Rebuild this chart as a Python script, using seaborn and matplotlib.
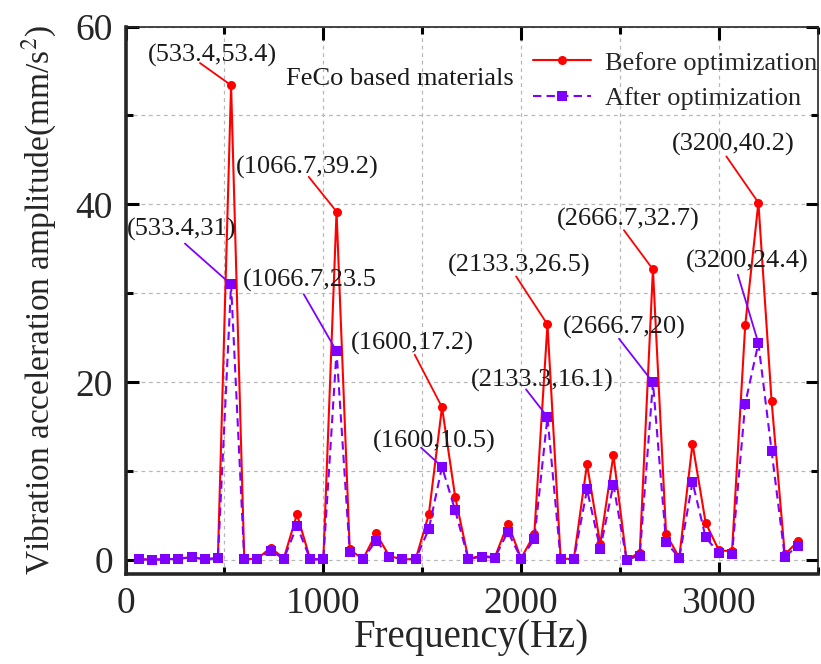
import numpy as np
import pandas as pd
import matplotlib
matplotlib.use("Agg")
import matplotlib.pyplot as plt
import seaborn as sns

# Harmonic orders and frequency resolution (Hz)
step_hz = 3200 / 48
orders = list(range(1, 52))

before_opt = [0.1, 0.05, 0.1, 0.15, 0.35, 0.1, 0.25, 53.4, 0.1, 0.15,
              1.4, 0.2, 5.15, 0.1, 0.1, 39.2, 1.2, 0.1, 3.0, 0.45,
              0.1, 0.1, 5.15, 17.2, 7.1, 0.15, 0.5, 0.3, 4.1, 0.2,
              2.9, 26.5, 0.15, 0.15, 10.8, 1.8, 11.8, 0.05, 0.85, 32.7,
              2.9, 0.3, 13.1, 4.2, 1.1, 1.0, 26.4, 40.2, 17.9, 0.65, 2.1]
after_opt = [0.1, 0.05, 0.1, 0.15, 0.3, 0.1, 0.2, 31.0, 0.1, 0.1,
             1.05, 0.15, 3.85, 0.1, 0.1, 23.5, 0.95, 0.1, 2.2, 0.4,
             0.1, 0.1, 3.5, 10.5, 5.6, 0.1, 0.4, 0.25, 3.2, 0.15,
             2.35, 16.1, 0.1, 0.1, 7.95, 1.25, 8.5, 0.05, 0.5, 20.0,
             2.0, 0.25, 8.8, 2.55, 0.8, 0.65, 17.6, 24.4, 12.3, 0.4, 1.6]

series_names = ["Before optimization", "After optimization"]
series_colors = ["#ff0000", "#8000ff"]

# Peak labels: (series index, harmonic order, label text)
peak_labels = [
    (0, 8, "(533.4,53.4)"), (0, 16, "(1066.7,39.2)"),
    (1, 8, "(533.4,31)"), (1, 16, "(1066.7,23.5"),
    (0, 24, "(1600,17.2)"), (1, 24, "(1600,10.5)"),
    (0, 32, "(2133.3,26.5)"), (1, 32, "(2133.3,16.1)"),
    (0, 40, "(2666.7,32.7)"), (1, 40, "(2666.7,20)"),
    (0, 48, "(3200,40.2)"), (1, 48, "(3200,24.4)"),
]
# Label placement: text centre (x, y) and leader-line start (x, y)
label_layout = [
    (441, 56.8, 376, 55.9), (921, 44.2, 926, 43.1),
    (285, 37.2, 300, 35.6), (930, 31.4, 901, 29.9),
    (1452, 24.4, 1462, 23.1), (1561, 13.4, 1494, 12.65),
    (1988, 33.1, 1975, 31.9), (2107, 20.2, 2025, 19.2),
    (2541, 38.3, 2520, 37.1), (2520, 26.2, 2495, 24.9),
    (3071, 46.7, 3038, 45.4), (3142, 33.6, 3096, 32.1),
]

freq = [k * step_hz for k in orders]
df = pd.DataFrame({
    "Frequency": freq * 2,
    "Amplitude": before_opt + after_opt,
    "Series": [series_names[0]] * len(freq) + [series_names[1]] * len(freq),
})

sns.set_style("ticks")
plt.rcParams["font.family"] = ["Liberation Serif", "DejaVu Serif"]
plt.rcParams["mathtext.fontset"] = "stix"

fig = plt.figure(figsize=(8.21, 6.64), dpi=100)
ax = fig.add_axes([0.153, 0.135, 0.843, 0.825])

sns.lineplot(
    data=df, x="Frequency", y="Amplitude", hue="Series", style="Series",
    hue_order=series_names, style_order=series_names,
    palette=dict(zip(series_names, series_colors)),
    markers={series_names[0]: "o", series_names[1]: "s"},
    dashes={series_names[0]: "", series_names[1]: (4, 2.5)},
    markersize=6.5, markeredgewidth=0, linewidth=1.5, ax=ax,
)

ax.set_xlim(0, 3470)
ax.set_ylim(-1.6, 60)
ax.set_xticks([0, 1000, 2000, 3000])
ax.set_xticks([500, 1500, 2500, 3500], minor=True)
ax.set_yticks([0, 20, 40, 60])
ax.set_yticks([10, 30, 50], minor=True)
ax.grid(True, which="both", linestyle=(0, (3, 3)), color="#b8b8b8", linewidth=0.9)
ax.tick_params(which="both", direction="in", top=True, right=True, width=2.2,
               labelsize=27, color="black")
ax.tick_params(which="major", length=9)
ax.tick_params(which="minor", length=5)
ax.tick_params(axis="x", pad=9)
ax.tick_params(axis="y", pad=9)
for side in ["left", "bottom"]:
    ax.spines[side].set_linewidth(2.6)
for side in ["top", "right"]:
    ax.spines[side].set_linewidth(1.2)

ax.set_xlabel("Frequency(Hz)", fontsize=28, labelpad=-2)
ax.set_ylabel("Vibration acceleration amplitude(mm/s$^2$)", fontsize=24, labelpad=12)

series_values = [before_opt, after_opt]
for (si, k, txt), (tx, ty, lx, ly) in zip(peak_labels, label_layout):
    px = orders.index(k)
    ax.annotate("", xy=(freq[px], series_values[si][px]), xytext=(lx, ly),
                arrowprops=dict(arrowstyle="-", color=series_colors[si], lw=1.3,
                                shrinkA=0, shrinkB=0))
    ax.text(tx, ty, txt, ha="center", va="center", fontsize=19, color="#1a1a1a")

ax.text(811, 54.1, "FeCo based materials", ha="left", va="center",
        fontsize=19, color="#1a1a1a")

handles, labels = ax.get_legend_handles_labels()
ax.legend(handles, labels, loc="upper right", bbox_to_anchor=(1.0, 0.955),
          frameon=False, fontsize=19, handlelength=2.2, handletextpad=0.55,
          labelspacing=0.45, borderpad=0.0, borderaxespad=0.0)

fig.savefig("out.png", dpi=100)
